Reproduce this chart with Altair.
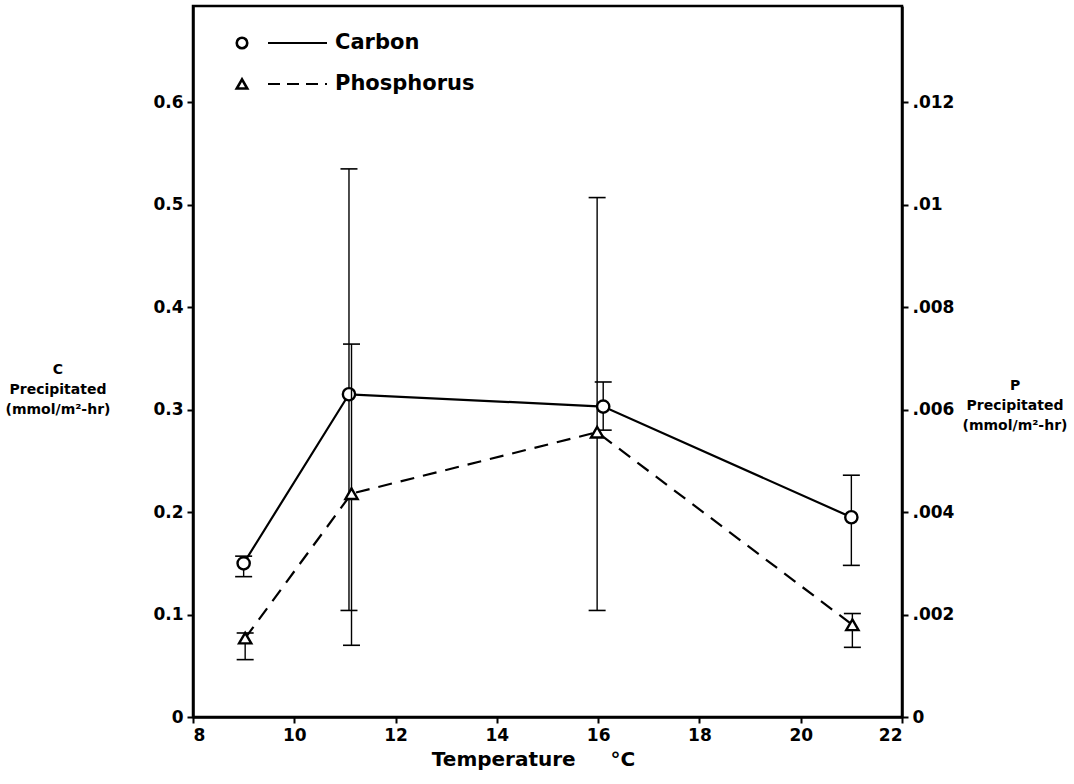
import altair as alt
import pandas as pd

# ---- data ----
temp_c = [9.0, 11.08, 16.1, 21.0]
carbon = [0.150, 0.315, 0.303, 0.195]
carbon_lo = [0.137, 0.104, 0.280, 0.148]
carbon_hi = [0.157, 0.535, 0.327, 0.236]

temp_p = [9.03, 11.13, 15.98, 21.02]
phos = [0.00154, 0.00436, 0.00556, 0.00180]
phos_lo = [0.00112, 0.00140, 0.00208, 0.00136]
phos_hi = [0.00164, 0.00728, 0.01014, 0.00202]

x_ticks = [8, 10, 12, 14, 16, 18, 20, 22]
c_ticks = [0, 0.1, 0.2, 0.3, 0.4, 0.5, 0.6]
p_ticks = [0, 0.002, 0.004, 0.006, 0.008, 0.010, 0.012]

C_MAX = 0.694
P_MAX = C_MAX / 50

W, H = 709, 711
FONT = "DejaVu Sans"
NB = "\u00a0"

cdf = pd.DataFrame({"t": temp_c, "v": carbon, "lo": carbon_lo, "hi": carbon_hi})
pdf = pd.DataFrame({"t": temp_p, "v": phos, "lo": phos_lo, "hi": phos_hi})

xs = alt.Scale(domain=[8, 22], nice=False, zero=False)
cys = alt.Scale(domain=[0, C_MAX], nice=False)
pys = alt.Scale(domain=[0, P_MAX], nice=False)

x_axis = alt.Axis(values=x_ticks, title="Temperature" + NB * 5 + "°C", labelFontSize=17,
                  labelFontWeight="bold", titleFontSize=20, titleFontWeight="bold",
                  titlePadding=6, tickSize=6, labelPadding=4, grid=False, titleX=340)

cx = alt.X("t:Q", scale=xs, axis=x_axis)

c_axis = alt.Axis(values=c_ticks, orient="left", title=None, grid=False,
                  labelExpr="datum.value == 0 ? '0' : format(datum.value, '.1f')",
                  labelFontSize=17, labelFontWeight="bold", tickSize=6, labelPadding=4)
p_axis = alt.Axis(values=p_ticks, orient="right", title=None, grid=False,
                  labelExpr="datum.value == 0 ? '0' : replace(format(datum.value, '.3~f'), '0.', '.')",
                  labelFontSize=17, labelFontWeight="bold", tickSize=6, labelPadding=4)

cy_lo = alt.Y("lo:Q", scale=cys, axis=c_axis)
cy_hi = alt.Y("hi:Q", scale=cys, axis=c_axis)
cy_v = alt.Y("v:Q", scale=cys, axis=c_axis)
py_lo = alt.Y("lo:Q", scale=pys, axis=p_axis)
py_hi = alt.Y("hi:Q", scale=pys, axis=p_axis)
py_v = alt.Y("v:Q", scale=pys, axis=p_axis)

cbase = alt.Chart(cdf)
c_rule = cbase.mark_rule(color="black", strokeWidth=1.4).encode(x=cx, y=cy_lo, y2="hi:Q")
c_cap_lo = cbase.mark_tick(orient="horizontal", size=17, thickness=1.6, color="black",
                           opacity=1).encode(x=cx, y=cy_lo)
c_cap_hi = cbase.mark_tick(orient="horizontal", size=17, thickness=1.6, color="black",
                           opacity=1).encode(x=cx, y=cy_hi)
c_line = cbase.mark_line(color="black", strokeWidth=2.2).encode(x=cx, y=cy_v)
c_pts = cbase.mark_point(shape="circle", filled=True, fill="white", stroke="black",
                         strokeWidth=2.4, size=150, opacity=1).encode(x=cx, y=cy_v)

pbase = alt.Chart(pdf)
p_rule = pbase.mark_rule(color="black", strokeWidth=1.4).encode(x=cx, y=py_lo, y2="hi:Q")
p_cap_lo = pbase.mark_tick(orient="horizontal", size=17, thickness=1.6, color="black",
                           opacity=1).encode(x=cx, y=py_lo)
p_cap_hi = pbase.mark_tick(orient="horizontal", size=17, thickness=1.6, color="black",
                           opacity=1).encode(x=cx, y=py_hi)
p_line = pbase.mark_line(color="black", strokeWidth=2.2, strokeDash=[14, 9]).encode(x=cx, y=py_v)
p_pts = pbase.mark_point(shape="triangle-up", filled=True, fill="white", stroke="black",
                         strokeWidth=2.4, size=150, opacity=1).encode(x=cx, y=py_v)

# ---- legend (decoration) ----
leg_df = pd.DataFrame({"k": [0]})
leg = alt.Chart(leg_df)
leg_c_sym = leg.mark_point(shape="circle", filled=True, fill="white", stroke="black",
                           strokeWidth=2.6, size=110, opacity=1).encode(x=alt.value(49), y=alt.value(37))
leg_c_line = leg.mark_rule(color="black", strokeWidth=2).encode(
    x=alt.value(75), x2=alt.value(134), y=alt.value(37))
leg_c_txt = leg.mark_text(text="Carbon", align="left", baseline="middle", fontSize=21,
                          font=FONT, fontWeight="bold").encode(x=alt.value(142), y=alt.value(37))
leg_p_sym = leg.mark_point(shape="triangle-up", filled=True, fill="white", stroke="black",
                           strokeWidth=2.6, size=110, opacity=1).encode(x=alt.value(49), y=alt.value(78))
leg_p_line = leg.mark_rule(color="black", strokeWidth=2, strokeDash=[12, 7]).encode(
    x=alt.value(75), x2=alt.value(134), y=alt.value(78))
leg_p_txt = leg.mark_text(text="Phosphorus", align="left", baseline="middle", fontSize=21,
                          font=FONT, fontWeight="bold").encode(x=alt.value(142), y=alt.value(78))

# ---- side titles ----
left_lines = ["C", "Precipitated", "(mmol/m²-hr)"]
right_lines = ["P", "Precipitated", "(mmol/m²-hr)"]
side = []
for i, s in enumerate(left_lines):
    side.append(leg.mark_text(text=s, align="center", baseline="middle", fontSize=14,
                              font=FONT, fontWeight="bold").encode(
        x=alt.value(-135), y=alt.value(364 + 20 * i)))
for i, s in enumerate(right_lines):
    side.append(leg.mark_text(text=s, align="center", baseline="middle", fontSize=14,
                              font=FONT, fontWeight="bold").encode(
        x=alt.value(822), y=alt.value(380 + 20 * i)))

c_layer = alt.layer(c_rule, c_cap_lo, c_cap_hi, c_line, c_pts,
                    leg_c_sym, leg_c_line, leg_c_txt, leg_p_sym, leg_p_line, leg_p_txt, *side)
p_layer = alt.layer(p_rule, p_cap_lo, p_cap_hi, p_line, p_pts)

chart = alt.layer(c_layer, p_layer).resolve_scale(y="independent").properties(
    width=W, height=H,
    autosize=alt.AutoSizeParams(type="none"),
    padding={"left": 193, "top": 6, "right": 172, "bottom": 67},
    background="white",
).configure_view(stroke="black", strokeWidth=2.5).configure_axis(
    domainColor="black", domainWidth=2.5, tickColor="black", tickWidth=2,
    labelColor="black", titleColor="black", labelFont=FONT, titleFont=FONT,
).configure_text(font=FONT)

chart.save("out.html", embed_options={"renderer": "svg", "actions": False})
